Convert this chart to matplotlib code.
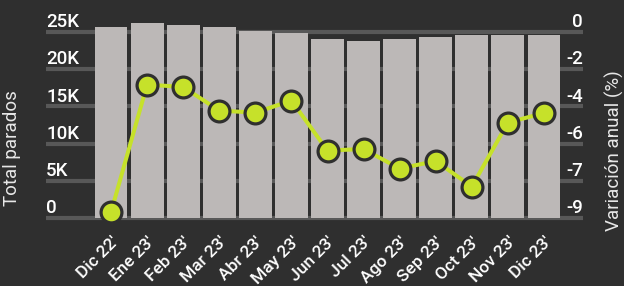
import numpy as np
import matplotlib
matplotlib.use("Agg")
from matplotlib import pyplot as plt

# data
months = ["Dic 22'", "Ene 23'", "Feb 23'", "Mar 23'", "Abr 23'", "May 23'", "Jun 23'",
          "Jul 23'", "Ago 23'", "Sep 23'", "Oct 23'", "Nov 23'", "Dic 23'"]
parados = [25650, 26200, 25950, 25650, 25150, 24850, 24050,
           23800, 24050, 24300, 24600, 24600, 24600]
variacion = [-9.0, -2.63, -2.75, -3.93, -4.03, -3.43, -5.93,
             -5.85, -6.83, -6.45, -7.73, -4.53, -4.05]
left_ticks = [0, 5000, 10000, 15000, 20000, 25000]
left_labels = ["0", "5K", "10K", "15K", "20K", "25K"]
right_labels = ["-9", "-7", "-6", "-4", "-2", "0"]

bg = "#2f2f2f"
bar_color = "#bcb8b7"
grid_color = "#585858"
lime = "#c6e12a"

plt.rcParams["font.family"] = ["Roboto", "DejaVu Sans"]

fig = plt.figure(figsize=(6.24, 2.86), dpi=100, facecolor=bg)
W, H = 624, 286
ax_l, ax_r, ax_t, ax_b = 93, 562, 32, 218
ax = fig.add_axes([ax_l / W, 1 - ax_b / H, (ax_r - ax_l) / W, (ax_b - ax_t) / H])
ax.set_facecolor("none")
ax.set_xlim(-0.5, 12.5)
ax.set_ylim(0, 25000)

x = np.arange(len(months))
ax.bar(x, parados, width=0.91, color=bar_color, zorder=2, clip_on=False)

# gridlines that run under the labels on both sides
gx0 = (46 - ax_l) / (ax_r - ax_l)
gx1 = (583 - ax_l) / (ax_r - ax_l)
ytr = ax.get_yaxis_transform()
for yv, lab, rlab in zip(left_ticks, left_labels, right_labels):
    ax.plot([gx0, gx1], [yv, yv], color=grid_color, lw=3, transform=ytr,
            clip_on=False, zorder=1, solid_capstyle="butt")
    ax.annotate(lab, (gx0, yv), xycoords=ytr, xytext=(0, 3.5), textcoords="offset points",
                ha="left", va="baseline", color="white", fontsize=13.5, fontweight="medium")
    ax.annotate(rlab, (gx1, yv), xycoords=ytr, xytext=(0, 3.5), textcoords="offset points",
                ha="right", va="baseline", color="white", fontsize=13.5, fontweight="medium")

for s in ax.spines.values():
    s.set_visible(False)
ax.set_yticks([])
ax.set_xticks(x, months, rotation=45, ha="right", rotation_mode="anchor",
              color="white", fontsize=12.5, fontweight="medium")
ax.tick_params(axis="x", length=0, pad=11.5)

ax2 = ax.twinx()
ax2.set_ylim(-9.3, 0)
ax2.plot(x, variacion, color=lime, lw=2.9, marker="o", ms=15, mfc=lime,
         mec=bg, mew=2.3, clip_on=False, zorder=3)
for s in ax2.spines.values():
    s.set_visible(False)
ax2.set_yticks([])

fig.text(12 / W, 1 - 148 / H, "Total parados", rotation=90, ha="center", va="center",
         color="#e8e8e8", fontsize=13.5)
fig.text(614 / W, 1 - 151 / H, "Variación anual (%)", rotation=90, ha="center", va="center",
         color="#e8e8e8", fontsize=13.5)

fig.savefig("out.png", dpi=100, facecolor=bg)
